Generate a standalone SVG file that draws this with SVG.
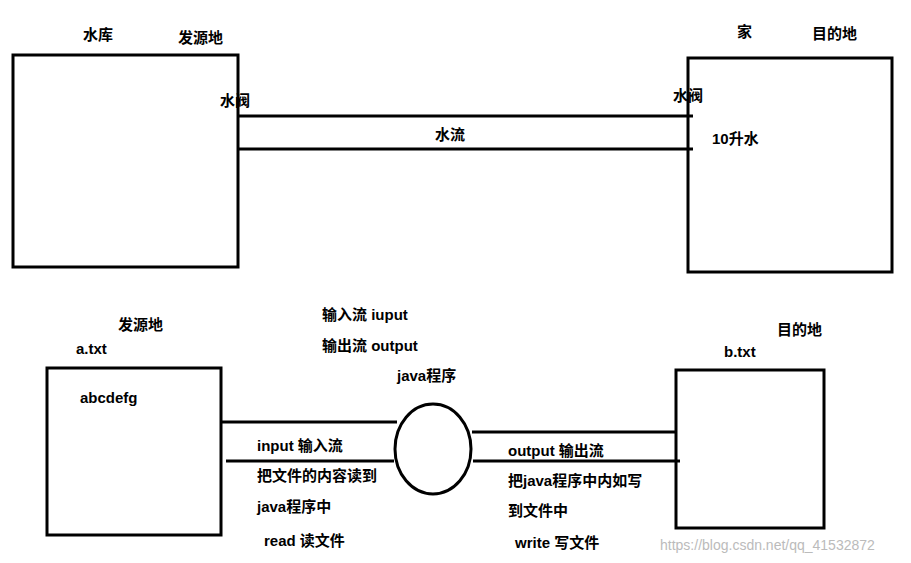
<svg xmlns="http://www.w3.org/2000/svg" width="911" height="563" viewBox="0 0 911 563">
<style>
.b{fill:none;stroke:#000;stroke-width:3}
.l{stroke:#000;stroke-width:3}
text{font-family:"Liberation Sans","Noto Sans CJK SC",sans-serif;font-size:15px;font-weight:bold;fill:#000}
.w{font-weight:normal;fill:#bbb;font-size:14px}
</style>
<rect width="911" height="563" fill="#fff"/>
<g id="reservoir"><rect class="b" x="13" y="55" width="225" height="212"/></g>
<g id="home"><rect class="b" x="688" y="58" width="204" height="214"/></g>
<g id="atxt"><rect class="b" x="47" y="368" width="174" height="167"/></g>
<g id="btxt"><rect class="b" x="676" y="370" width="148" height="158"/></g>
<g id="program"><ellipse class="b" cx="433" cy="449" rx="38" ry="45"/></g>
<g id="connectors">
<line class="l" x1="238" y1="116" x2="693" y2="116"/>
<line class="l" x1="238" y1="149" x2="693" y2="149"/>
<line class="l" x1="221" y1="422" x2="397" y2="422"/>
<line class="l" x1="226" y1="461" x2="394" y2="461"/>
<line class="l" x1="472" y1="432" x2="676" y2="432"/>
<line class="l" x1="473" y1="461" x2="680" y2="461"/>
</g>
<g id="labels">
<text x="83" y="40">水库</text>
<text x="178" y="43">发源地</text>
<text x="220" y="106">水阀</text>
<text x="435" y="140">水流</text>
<text x="673" y="101">水阀</text>
<text x="712" y="144">10升水</text>
<text x="737" y="37">家</text>
<text x="812" y="39">目的地</text>
<text x="118" y="330">发源地</text>
<text x="76" y="354">a.txt</text>
<text x="80" y="403">abcdefg</text>
<text x="322" y="320">输入流  iuput</text>
<text x="322" y="351">输出流  output</text>
<text x="397" y="381">java程序</text>
<text x="777" y="335">目的地</text>
<text x="724" y="357">b.txt</text>
<text x="257" y="451">input  输入流</text>
<text x="257" y="481">把文件的内容读到</text>
<text x="257" y="512">java程序中</text>
<text x="264" y="546">read  读文件</text>
<text x="508" y="456">output  输出流</text>
<text x="508" y="486">把java程序中内如写</text>
<text x="508" y="516">到文件中</text>
<text x="515" y="548">write  写文件</text>
<text class="w" x="660" y="550">https://blog.csdn.net/qq_41532872</text>
</g>
</svg>
